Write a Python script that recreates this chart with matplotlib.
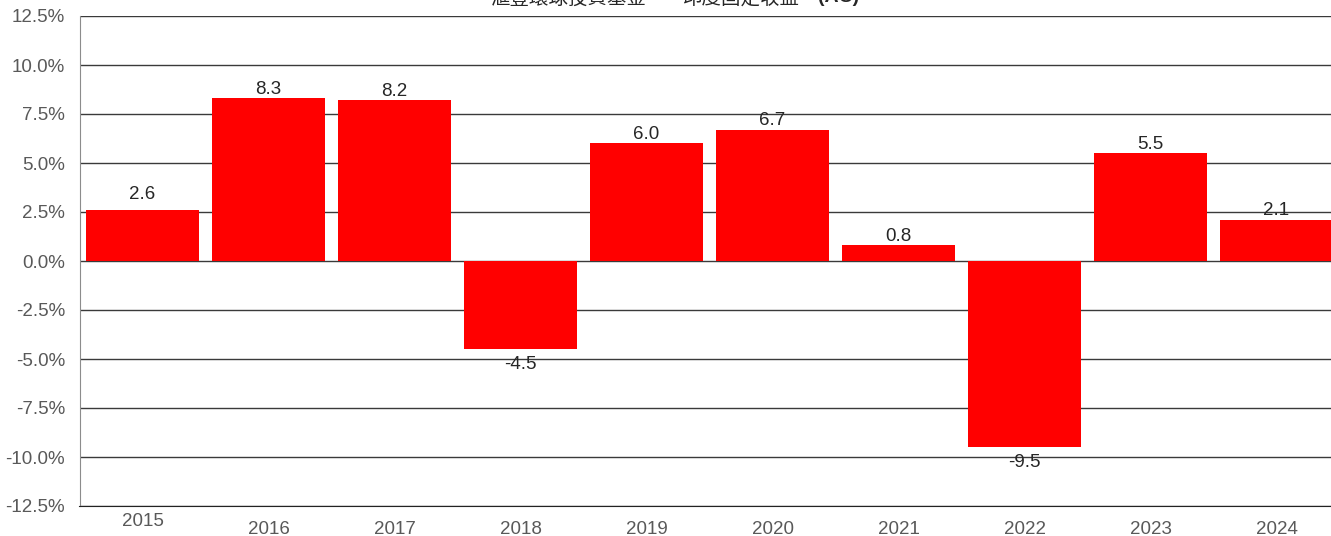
import matplotlib.pyplot as plt
import numpy as np

plt.rcParams['font.family'] = ['Liberation Sans', 'Noto Sans CJK TC', 'DejaVu Sans']

#------------------
# Datos del gráfico
#------------------
years = ["2015", "2016", "2017", "2018", "2019", "2020", "2021", "2022", "2023", "2024"]
returns = [2.6, 8.3, 8.2, -4.5, 6.0, 6.7, 0.8, -9.5, 5.5, 2.1]
yticks = [-12.5, -10.0, -7.5, -5.0, -2.5, 0.0, 2.5, 5.0, 7.5, 10.0, 12.5]
title_umbrella = "滙豐環球投資基金"
title_fund = "印度固定收益"
title_class = "(AC)"

W, H = 1331, 536
PX = 0.72  # puntos por píxel a dpi 100
fig = plt.figure(figsize=(W / 100, H / 100), dpi=100)
ax = fig.add_axes([79.5 / W, 30 / H, 1260 / W, 490 / H])

x = np.arange(len(years))
ax.bar(x, returns, width=0.9, color="#FF0000", zorder=2)

ax.set_xlim(-0.5, len(years) - 0.5)
ax.set_ylim(-12.5, 12.5)
ax.set_yticks(yticks)
ax.set_yticklabels([f"{v:.1f}%" for v in yticks])
ax.yaxis.grid(True, color="#3a3a3a", linewidth=1, zorder=1)
ax.set_axisbelow(True)

ax.set_xticks(x)
ax.set_xticklabels(years)
ax.tick_params(axis="both", length=0, colors="#595959", labelsize=13.5)
ax.tick_params(axis="y", pad=14.5 * PX)
ax.tick_params(axis="x", pad=15 * PX)
# la etiqueta 2015 aparece más arriba en el original
ax.get_xticklabels()[0].set_y(8 / 490)

for side in ("top", "right"):
    ax.spines[side].set_visible(False)
ax.spines["left"].set_color("#8c8c8c")
ax.spines["bottom"].set_color("#222222")

# etiquetas de valor
for i, v in enumerate(returns):
    if v >= 0:
        off = (16 if i == 0 else 9) * PX
    else:
        off = -15 * PX
    ax.annotate(f"{v:.1f}", (i, v), xytext=(0, off), textcoords="offset points",
                ha="center", va="center", fontsize=13.5, color="#262626")

# título (cortado por arriba como en el original)
cjk = ["Noto Sans CJK TC", "DejaVu Sans"]
ty = 1 + 2 / H
fig.text(490 / W, ty, title_umbrella, ha="left", va="center", fontsize=14,
         color="#262626", family=cjk, fontweight="light")
fig.text(665 / W, ty, "-", ha="center", va="center", fontsize=14, color="#262626")
fig.text(683 / W, ty, title_fund, ha="left", va="center", fontsize=14,
         color="#262626", family=cjk, fontweight="light")
fig.text(818 / W, ty, title_class, ha="left", va="center", fontsize=14,
         color="#262626", fontweight="bold")

fig.savefig("out.png", dpi=100)
